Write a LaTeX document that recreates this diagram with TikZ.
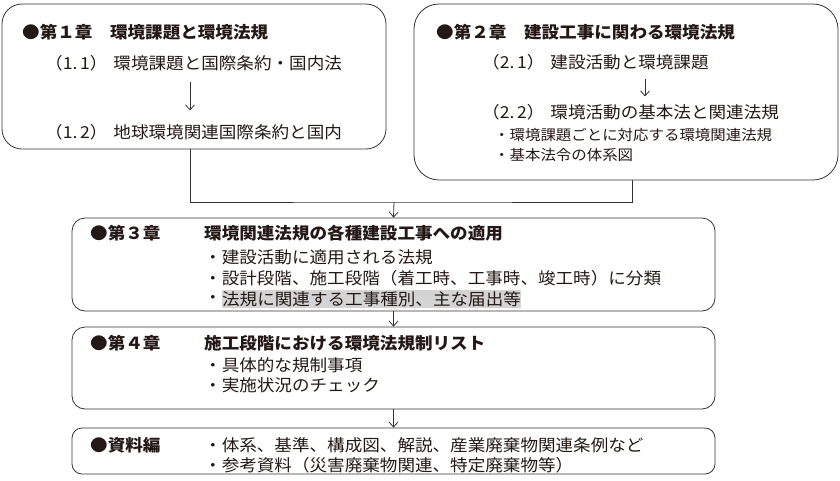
\documentclass[tikz,border=0pt]{standalone}
\usepackage{fontspec}
\setmainfont{Noto Sans CJK JP}[FakeStretch=1.065]
\usetikzlibrary{%
    arrows.meta,%
    positioning%
}
\definecolor{ink}{HTML}{231815}
\definecolor{linegray}{HTML}{333333}
\definecolor{hlgray}{HTML}{D4D4D4}

\begin{document}
\begin{tikzpicture}[
    x=1pt,y=-1pt,
    chapter/.style={draw=linegray,line width=.8pt,inner sep=0pt},
    head/.style={anchor=west,inner sep=0pt,text=ink,
        font={\fontsize{16.5pt}{19pt}\selectfont\bfseries}},
    body/.style={anchor=west,inner sep=0pt,text=ink,
        font={\fontsize{16.5pt}{19pt}\selectfont}},
    note/.style={body,font={\fontsize{14.5pt}{17pt}\selectfont}},
    flow/.style={draw=linegray,line width=.8pt,
        -{Straight Barb[length=5pt,width=9pt]}},
    ]
    \useasboundingbox (0,0) rectangle (840,480);
    % Chapter boxes
    \node[chapter,rounded corners=20pt,minimum width=384pt,
          minimum height=145pt] (ch1) at (194,76.5) {};
    \node[chapter,rounded corners=25pt,minimum width=424pt,
          minimum height=176pt] (ch2) at (626,92) {};
    \node[chapter,rounded corners=13pt,minimum width=643pt,
          minimum height=93pt] (ch3) at (393.5,264.5) {};
    \node[chapter,rounded corners=13pt,minimum width=643pt,
          minimum height=82pt] (ch4) at (393.5,368) {};
    \node[chapter,rounded corners=10pt,minimum width=643pt,
          minimum height=46pt] (ch5) at (393.5,451) {};
    % Chapter 1
    \node[head] (h1) at (22,32) {●第１章　環境課題と環境法規};
    \node[body] (s11) at (45,63) {（1.\,1）\hspace{6pt}環境課題と国際条約・国内法};
    \node[body] (s12) at (45,132) {（1.\,2）\hspace{6pt}地球環境関連国際条約と国内};
    \coordinate (ax1) at (190,0);
    \draw[flow,shorten <=10.5pt,shorten >=13.5pt]
         (s11.south -| ax1) -- (s12.north -| ax1);
    % Chapter 2
    \node[head] (h2) at (436,32) {●第２章　建設工事に関わる環境法規};
    \node[body] (s21) at (482,62) {（2.\,1）\hspace{6pt}建設活動と環境課題};
    \node[body] (s22) at (482,112) {（2.\,2）\hspace{6pt}環境活動の基本法と関連法規};
    \node[note] (n21) at (494,135) {・環境課題ごとに対応する環境関連法規};
    \node[note] (n22) at (494,155) {・基本法令の体系図};
    \coordinate (ax2) at (645,0);
    \draw[flow,shorten <=8.5pt,shorten >=7.5pt]
         (s21.south -| ax2) -- (s22.north -| ax2);
    % Joining chapters 1 and 2
    \coordinate (join) at (394,202);
    \draw[linegray,line width=.8pt]
         ([xshift=-4pt]ch1.south) |- (join) -| ([xshift=6pt]ch2.south);
    \draw[flow] (join) -- (ch3.north);
    % Chapter 3
    \node[head] (h3) at (90,233) {●第３章};
    \node[head] (t3) at (204,233) {環境関連法規の各種建設工事への適用};
    \node[body] (l31) at (204,257) {・建設活動に適用される法規};
    \node[body] (l32) at (204,278) {・設計段階、施工段階（着工時、工事時、竣工時）に分類};
    \node[body] (l33) at (204,299) {・};
    \node[body,anchor=west,fill=hlgray,inner ysep=1.5pt,right=0pt of l33]
         (l33h) {法規に関連する工事種別、主な届出等};
    % Chapter 4
    \node[head] (h4) at (90,343) {●第４章};
    \node[head] (t4) at (204,343) {施工段階における環境法規制リスト};
    \node[body] (l41) at (204,365) {・具体的な規制事項};
    \node[body] (l42) at (204,385) {・実施状況のチェック};
    % Appendix
    \node[head] (h5) at (90,445) {●資料編};
    \node[body] (l51) at (204,445) {・体系、基準、構成図、解説、産業廃棄物関連条例など};
    \node[body] (l52) at (204,465) {・参考資料（災害廃棄物関連、特定廃棄物等）};
    % Flow between chapters
    \draw[flow] (ch3) -- (ch4);
    \draw[flow] (ch4) -- (ch5);
\end{tikzpicture}
\end{document}
